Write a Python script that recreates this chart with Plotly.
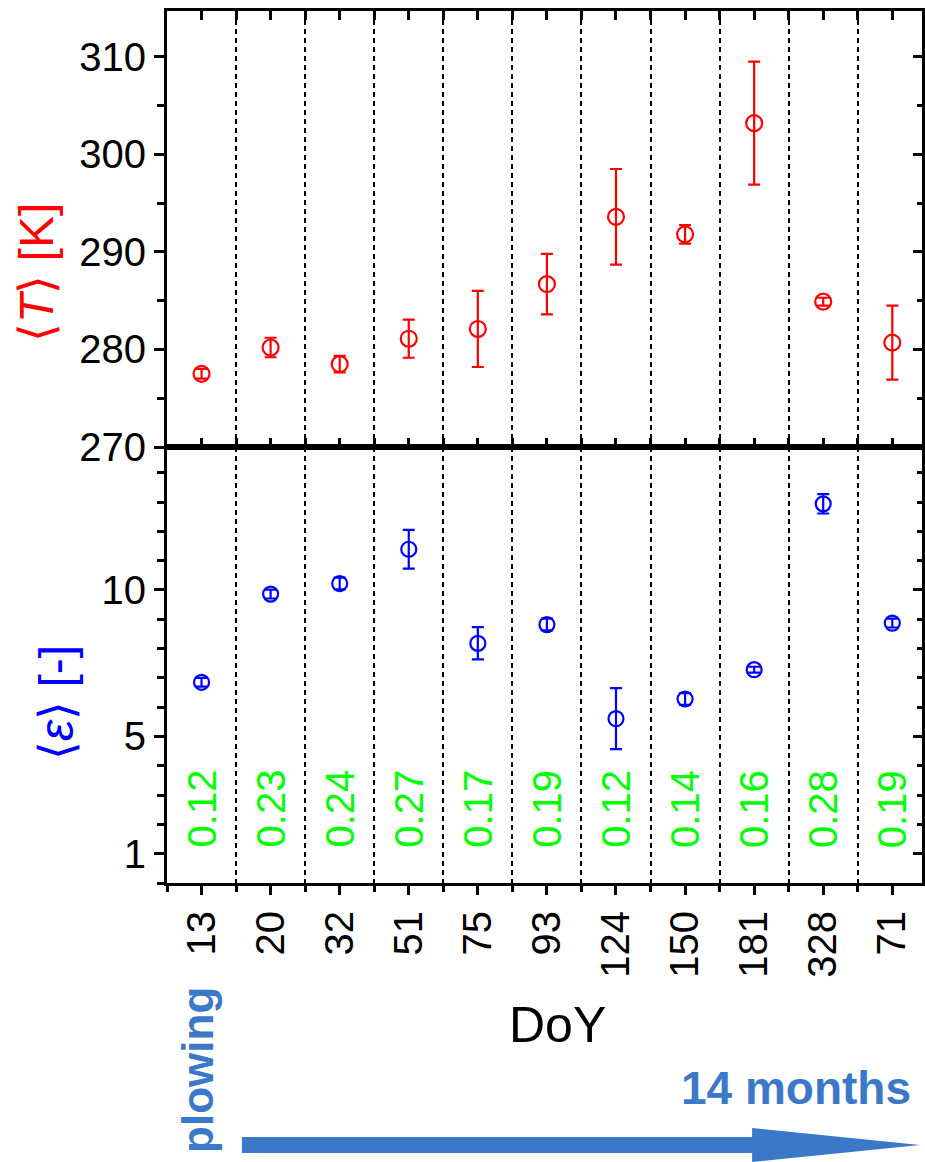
import plotly.graph_objects as go

# ---- data ----
doy_labels = ["13", "20", "32", "51", "75", "93", "124", "150", "181", "328", "71"]
temp_mean = [277.5, 280.2, 278.5, 281.1, 282.1, 286.7, 293.6, 291.8, 303.2, 284.9, 280.7]
temp_err = [0.5, 1.0, 0.85, 1.95, 3.9, 3.1, 4.9, 0.95, 6.3, 0.4, 3.8]
eps_mean = [6.85, 9.86, 10.22, 11.39, 8.18, 8.82, 5.61, 6.28, 7.28, 12.94, 8.87]
eps_err = [0.15, 0.15, 0.2, 0.66, 0.55, 0.2, 1.04, 0.2, 0.1, 0.33, 0.15]
w_vals = [0.12, 0.23, 0.24, 0.27, 0.17, 0.19, 0.12, 0.14, 0.16, 0.28, 0.19]

idx = list(range(len(doy_labels)))
FONT = "Liberation Sans, Arial, sans-serif"
RED = "#ff0000"
BLUE = "#0000ff"
GREEN = "#00ff00"
ABLUE = "#3b78c8"

fig = go.Figure()
fig.add_trace(go.Scatter(
    x=idx, y=temp_mean, mode="markers", xaxis="x", yaxis="y",
    marker=dict(symbol="circle-open", size=16, color=RED, line=dict(width=2.2, color=RED)),
    error_y=dict(type="data", array=temp_err, color=RED, thickness=2.2, width=6),
    showlegend=False, hoverinfo="skip"))
fig.add_trace(go.Scatter(
    x=idx, y=eps_mean, mode="markers", xaxis="x2", yaxis="y2",
    marker=dict(symbol="circle-open", size=15, color=BLUE, line=dict(width=2.2, color=BLUE)),
    error_y=dict(type="data", array=eps_err, color=BLUE, thickness=2.2, width=6),
    showlegend=False, hoverinfo="skip"))
# invisible traces so the right-side tick axes are drawn
fig.add_trace(go.Scatter(x=[idx[0]], y=[temp_mean[0]], xaxis="x", yaxis="y3",
                         mode="markers", marker=dict(opacity=0), showlegend=False, hoverinfo="skip"))
fig.add_trace(go.Scatter(x=[idx[0]], y=[eps_mean[0]], xaxis="x2", yaxis="y4",
                         mode="markers", marker=dict(opacity=0), showlegend=False, hoverinfo="skip"))

XR = [-0.5, 10.43]
T_RANGE = [270, 314.7]
E_RANGE = [0, 14.88]

xcommon = dict(
    range=XR, showline=True, linewidth=3, linecolor="black", automargin=False,
    tickmode="array", tickvals=idx, ticktext=doy_labels,
    ticklen=9, tickwidth=3, tickcolor="black",
    showgrid=False, zeroline=False,
    minor=dict(tick0=0.5, dtick=1, ticks="", ticklen=6, tickwidth=3, tickcolor="black",
               showgrid=True, gridcolor="black", gridwidth=1.5, griddash="5px,4px"),
)

fig.update_layout(
    width=925, height=1162,
    margin=dict(l=167, r=3, t=11, b=279),
    paper_bgcolor="white", plot_bgcolor="white",
    font=dict(family=FONT, size=40, color="black"),
    xaxis=dict(xcommon, domain=[0, 1], anchor="y", showticklabels=False,
               ticks="inside", mirror="allticks",
               minor=dict(xcommon["minor"], ticks="inside")),
    xaxis2=dict(xcommon, domain=[0, 1], anchor="y2", showticklabels=True,
                ticks="outside", mirror=True, tickangle=-90,
                minor=dict(xcommon["minor"], ticks="outside"),
                tickfont=dict(family=FONT, size=40, color="black")),
    yaxis=dict(domain=[0.5, 1], anchor="x", range=T_RANGE, automargin=False,
               showline=True, linewidth=3, linecolor="black", mirror=True,
               tickmode="linear", tick0=270, dtick=10,
               ticks="outside", ticklen=10, tickwidth=3, tickcolor="black",
               minor=dict(tick0=270, dtick=5, ticks="outside", ticklen=7, tickwidth=3, tickcolor="black"),
               showgrid=False, zeroline=False,
               tickfont=dict(family=FONT, size=40, color="black")),
    yaxis3=dict(domain=[0.5, 1], anchor="x", overlaying="y", side="right", range=T_RANGE,
                automargin=False,
                showline=False, showticklabels=False, showgrid=False, zeroline=False,
                tickmode="linear", tick0=270, dtick=10,
                ticks="inside", ticklen=9, tickwidth=3, tickcolor="black",
                minor=dict(tick0=270, dtick=5, ticks="inside", ticklen=5, tickwidth=3, tickcolor="black")),
    yaxis2=dict(domain=[0, 0.5], anchor="x2", range=E_RANGE, automargin=False,
                showline=True, linewidth=3, linecolor="black", mirror=True,
                tickmode="array", tickvals=[1, 5, 10], ticktext=["1", "5", "10"],
                ticks="outside", ticklen=10, tickwidth=3, tickcolor="black",
                minor=dict(tick0=0, dtick=1, ticks="outside", ticklen=7, tickwidth=3, tickcolor="black"),
                showgrid=False, zeroline=False,
                tickfont=dict(family=FONT, size=40, color="black")),
    yaxis4=dict(domain=[0, 0.5], anchor="x2", overlaying="y2", side="right", range=E_RANGE,
                automargin=False,
                showline=False, showticklabels=False, showgrid=False, zeroline=False,
                tickmode="array", tickvals=[1, 5, 10],
                ticks="inside", ticklen=9, tickwidth=3, tickcolor="black",
                minor=dict(tick0=0, dtick=1, ticks="inside", ticklen=5, tickwidth=3, tickcolor="black")),
)

annotations = []
for i, w in zip(idx, w_vals):
    annotations.append(dict(
        x=i, y=2.53, xref="x2", yref="y2", text=f"{w:.2f}", textangle=-90,
        showarrow=False, xanchor="center", yanchor="middle",
        font=dict(family=FONT, size=40, color=GREEN)))

# paper-coordinate helpers (plot area: x 167..922, y 11..883)
annotations += [
    dict(x=-0.1735, y=0.6995, xref="paper", yref="paper", text="⟨<i>T</i>⟩ [K]", showarrow=False,
         textangle=-90, xanchor="center", yanchor="middle",
         font=dict(family=FONT, size=48, color=RED)),
    dict(x=-0.1457, y=0.2076, xref="paper", yref="paper", text="⟨<i>ε</i>⟩ [-]", showarrow=False,
         textangle=-90, xanchor="center", yanchor="middle",
         font=dict(family=FONT, size=48, color=BLUE)),
    dict(x=0.5166, y=-0.163, xref="paper", yref="paper", text="DoY", showarrow=False,
         xanchor="center", yanchor="middle", font=dict(family=FONT, size=50, color="black")),
    dict(x=0.988, y=-0.235, xref="paper", yref="paper", text="<b>14 months</b>", showarrow=False,
         xanchor="right", yanchor="middle", font=dict(family=FONT, size=46, color=ABLUE)),
    dict(x=0.041, y=-0.2144, xref="paper", yref="paper", text="<b>plowing</b>", showarrow=False,
         textangle=-90, xanchor="center", yanchor="middle", font=dict(family=FONT, size=44, color=ABLUE)),
]
fig.update_layout(annotations=annotations)

# big arrow (paper coordinates)
yc = -0.3005
sh = 0.0092
hh = 0.0195
x0, xb, xt = 0.0993, 0.775, 0.9974
path = (f"M {x0},{yc - sh} L {xb},{yc - sh} L {xb},{yc - hh} L {xt},{yc} "
        f"L {xb},{yc + hh} L {xb},{yc + sh} L {x0},{yc + sh} Z")
fig.add_shape(type="path", path=path, xref="paper", yref="paper",
              fillcolor=ABLUE, line=dict(width=0), layer="above")

fig.write_html("out.html", config={"displayModeBar": False},
               post_script="document.body.style.margin='0';document.body.style.overflow='hidden';")
